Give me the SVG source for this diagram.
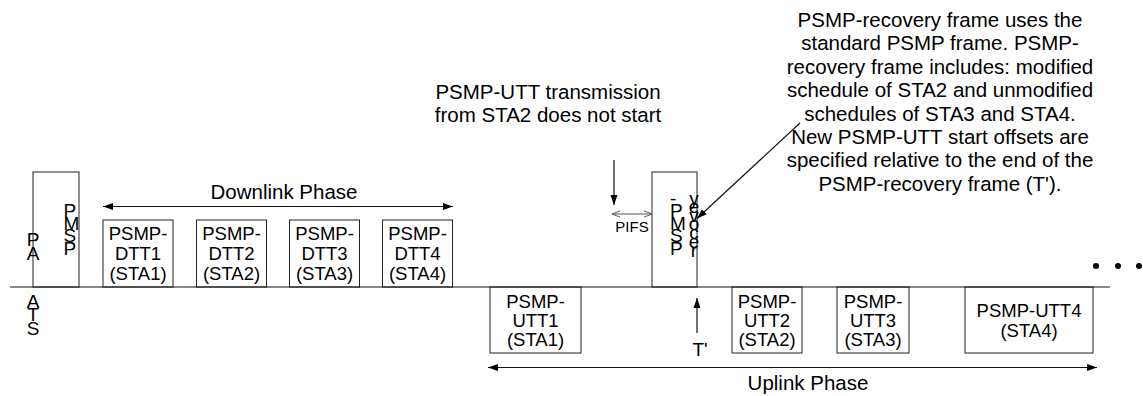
<svg xmlns="http://www.w3.org/2000/svg" width="1143" height="396" viewBox="0 0 1143 396">
<style>
text{font-family:"Liberation Sans",Arial,sans-serif;fill:#000}
.box{fill:#fff;stroke:#222;stroke-width:1}
.lbl{font-size:18.5px;text-anchor:middle}
.ann{font-size:20.5px;text-anchor:middle}
.stk{font-size:19px}
.ln{stroke:#111;stroke-width:1.2;fill:none}
.pifs{stroke:#555;stroke-width:1;fill:none}
</style>
<defs>
<marker id="ah" viewBox="0 0 10 10" refX="10" refY="5" markerWidth="10" markerHeight="10" markerUnits="userSpaceOnUse" orient="auto-start-reverse">
<path d="M0,1.5 L10,5 L0,8.5 Z" fill="#000"/>
</marker>
<marker id="oh" viewBox="0 0 10 10" refX="10" refY="5" markerWidth="8" markerHeight="8" markerUnits="userSpaceOnUse" orient="auto-start-reverse">
<path d="M0,1 L10,5 L0,9" fill="none" stroke="#555" stroke-width="1.2"/>
</marker>
</defs>
<rect width="1143" height="396" fill="#fff"/>

<g id="psmp1">
<rect class="box" x="33" y="172" width="46" height="115"/>
<text class="stk" x="63.5" y="217">P</text>
<text class="stk" x="63.5" y="229.5">M</text>
<text class="stk" x="63.5" y="242">S</text>
<text class="stk" x="63.5" y="254.5">P</text>
</g>
<g id="pa">
<text class="stk" x="33" y="246" text-anchor="middle">P</text>
<text class="stk" x="33" y="260" text-anchor="middle">A</text>
</g>
<g id="ats">
<text class="stk" x="33" y="307.5" text-anchor="middle">A</text>
<text class="stk" x="33" y="321" text-anchor="middle">T</text>
<text class="stk" x="33" y="335" text-anchor="middle">S</text>
</g>

<g id="dtt1"><rect class="box" x="103" y="220" width="70" height="67"/>
<text class="lbl" x="138" y="240">PSMP-</text><text class="lbl" x="138" y="260">DTT1</text><text class="lbl" x="138" y="280">(STA1)</text></g>
<g id="dtt2"><rect class="box" x="196.5" y="220" width="70" height="67"/>
<text class="lbl" x="231.5" y="240">PSMP-</text><text class="lbl" x="231.5" y="260">DTT2</text><text class="lbl" x="231.5" y="280">(STA2)</text></g>
<g id="dtt3"><rect class="box" x="289.5" y="220" width="70" height="67"/>
<text class="lbl" x="324.5" y="240">PSMP-</text><text class="lbl" x="324.5" y="260">DTT3</text><text class="lbl" x="324.5" y="280">(STA3)</text></g>
<g id="dtt4"><rect class="box" x="382.5" y="220" width="70" height="67"/>
<text class="lbl" x="417.5" y="240">PSMP-</text><text class="lbl" x="417.5" y="260">DTT4</text><text class="lbl" x="417.5" y="280">(STA4)</text></g>

<g id="psmp-recovery">
<rect class="box" x="652" y="172" width="45" height="115"/>
<text class="stk" x="670" y="204.5">-</text>
<text class="stk" x="670" y="217">P</text>
<text class="stk" x="670" y="229.5">M</text>
<text class="stk" x="670" y="242">S</text>
<text class="stk" x="670" y="254.5">P</text>
<g text-anchor="middle">
<text class="stk" x="694" y="204.5">y</text>
<text class="stk" x="694" y="213">e</text>
<text class="stk" x="694" y="221.7">v</text>
<text class="stk" x="694" y="230.4">o</text>
<text class="stk" x="694" y="239.1">c</text>
<text class="stk" x="694" y="247.8">e</text>
<text class="stk" x="694" y="256.5">r</text>
</g>
</g>

<g id="utt1"><rect class="box" x="490" y="287" width="91" height="66"/>
<text class="lbl" x="535.5" y="308">PSMP-</text><text class="lbl" x="535.5" y="327">UTT1</text><text class="lbl" x="535.5" y="346">(STA1)</text></g>
<g id="utt2"><rect class="box" x="732" y="287" width="70" height="66"/>
<text class="lbl" x="767" y="308">PSMP-</text><text class="lbl" x="767" y="327">UTT2</text><text class="lbl" x="767" y="346">(STA2)</text></g>
<g id="utt3"><rect class="box" x="837" y="287" width="72" height="66"/>
<text class="lbl" x="873" y="308">PSMP-</text><text class="lbl" x="873" y="327">UTT3</text><text class="lbl" x="873" y="346">(STA3)</text></g>
<g id="utt4"><rect class="box" x="965" y="287" width="128" height="66"/>
<text class="lbl" x="1029" y="317">PSMP-UTT4</text><text class="lbl" x="1029" y="337">(STA4)</text></g>

<g id="connectors">
<line class="ln" x1="10" y1="287" x2="1110" y2="287"/>
<line class="ln" x1="103" y1="206.5" x2="453" y2="206.5" marker-start="url(#ah)" marker-end="url(#ah)"/>
<line class="ln" x1="488" y1="367.5" x2="1097" y2="367.5" marker-start="url(#ah)" marker-end="url(#ah)"/>
<line class="ln" x1="614" y1="160" x2="614" y2="205" marker-end="url(#ah)"/>
<line class="pifs" x1="612" y1="214" x2="652" y2="214" marker-start="url(#oh)" marker-end="url(#oh)"/>
<line class="ln" x1="697" y1="333" x2="697" y2="298" marker-end="url(#ah)"/>
<line class="ln" x1="800" y1="123" x2="697" y2="218.5" marker-end="url(#ah)"/>
</g>

<g id="labels">
<text class="ann" x="284" y="199">Downlink Phase</text>
<text class="ann" x="808" y="390">Uplink Phase</text>
<text x="632" y="232" font-size="15" text-anchor="middle">PIFS</text>
<text x="700" y="356" font-size="19" text-anchor="middle">T'</text>
<text class="ann" x="548" y="99">PSMP-UTT transmission</text>
<text class="ann" x="548" y="122">from STA2 does not start</text>
<g class="ann">
<text class="ann" x="940" y="27">PSMP-recovery frame uses the</text>
<text class="ann" x="940" y="50.4">standard PSMP frame. PSMP-</text>
<text class="ann" x="940" y="73.8">recovery frame includes: modified</text>
<text class="ann" x="940" y="97.2">schedule of STA2 and unmodified</text>
<text class="ann" x="940" y="120.6">schedules of STA3 and STA4.</text>
<text class="ann" x="940" y="144">New PSMP-UTT start offsets are</text>
<text class="ann" x="940" y="167.4">specified relative to the end of the</text>
<text class="ann" x="940" y="190.8">PSMP-recovery frame (T').</text>
</g>
</g>

<g id="ellipsis" fill="#000">
<circle cx="1096" cy="266" r="3"/>
<circle cx="1118" cy="266" r="3"/>
<circle cx="1139" cy="266" r="3"/>
</g>
</svg>
